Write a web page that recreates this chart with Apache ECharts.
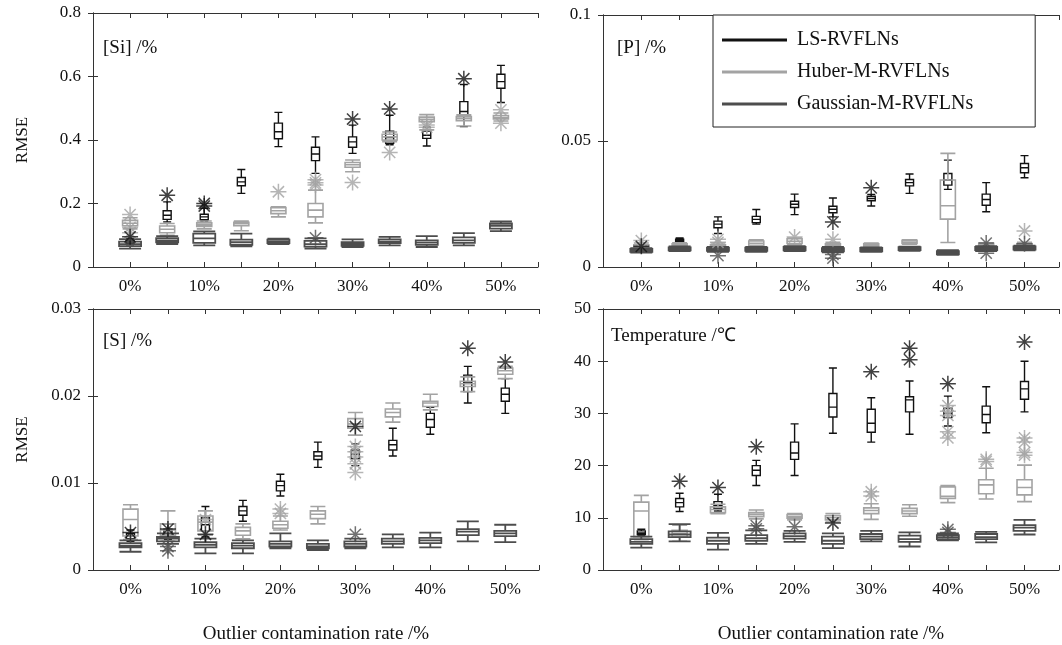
<!DOCTYPE html>
<html>
<head>
<meta charset="utf-8">
<script src="https://cdn.jsdelivr.net/npm/echarts@6/dist/echarts.min.js"></script>
<style>html,body{margin:0;padding:0;background:#fff}#c{width:1062px;height:645px}</style>
</head>
<body>
<div id="c"></div>
<script>
// ---------------- DATA ----------------
const rates = ['0%','5%','10%','15%','20%','25%','30%','35%','40%','45%','50%'];
const shownRateLabels = ['0%','10%','20%','30%','40%','50%'];
const methods = ['LS-RVFLNs','Huber-M-RVFLNs','Gaussian-M-RVFLNs'];
const panelLabels = ['[Si] /%','[P] /%','[S] /%','Temperature /\u2103'];
const yMax = [0.8, 0.1, 0.03, 50];
const yInterval = [0.2, 0.05, 0.01, 10];
const xAxisName = 'Outlier contamination rate /%';
const yAxisName = 'RMSE';

// box = [min, Q1, median, Q3, max]; outliers = [rateIndex, value]
const siLS = [[0.07,0.075,0.08,0.085,0.09],[0.142,0.15,0.163,0.177,0.205],[0.145,0.149,0.158,0.166,0.185],[0.232,0.256,0.268,0.282,0.307],[0.379,0.404,0.426,0.453,0.487],[0.295,0.335,0.356,0.377,0.41],[0.358,0.377,0.394,0.41,0.447],[0.385,0.39,0.408,0.428,0.478],[0.381,0.405,0.415,0.428,0.44],[0.442,0.479,0.49,0.521,0.575],[0.518,0.563,0.584,0.607,0.635]];
const siLSOut = [[0,0.095],[1,0.226],[2,0.2],[2,0.192],[6,0.466],[7,0.498],[9,0.593]];
const siHuber = [[0.12,0.13,0.138,0.147,0.155],[0.1,0.108,0.119,0.129,0.137],[0.12,0.128,0.133,0.139,0.145],[0.114,0.13,0.136,0.141,0.145],[0.158,0.168,0.177,0.187,0.19],[0.139,0.158,0.179,0.2,0.242],[0.3,0.314,0.322,0.329,0.337],[0.395,0.4,0.41,0.418,0.425],[0.432,0.458,0.465,0.472,0.48],[0.444,0.461,0.468,0.474,0.479],[0.46,0.466,0.471,0.477,0.485]];
const siHuberOut = [[0,0.165],[0,0.125],[0,0.108],[4,0.237],[5,0.275],[5,0.265],[5,0.258],[6,0.266],[7,0.361],[8,0.447],[8,0.44],[10,0.495],[10,0.453]];
const siGauss = [[0.058,0.066,0.072,0.08,0.088],[0.072,0.078,0.084,0.091,0.097],[0.068,0.076,0.09,0.105,0.112],[0.065,0.07,0.078,0.086,0.105],[0.072,0.075,0.08,0.086,0.089],[0.058,0.064,0.072,0.082,0.09],[0.063,0.067,0.072,0.078,0.087],[0.068,0.075,0.08,0.087,0.095],[0.063,0.07,0.077,0.084,0.097],[0.068,0.076,0.084,0.093,0.107],[0.113,0.121,0.13,0.137,0.144]];
const siGaussOut = [[5,0.092]];

const pLS = [[0.0062,0.0066,0.0069,0.0072,0.0078],[0.0095,0.0099,0.0105,0.011,0.0115],[0.0133,0.0156,0.017,0.0182,0.0199],[0.017,0.0176,0.0189,0.0201,0.0228],[0.0208,0.0236,0.0249,0.0261,0.0289],[0.0199,0.0215,0.0229,0.0241,0.0274],[0.0242,0.0263,0.0272,0.0281,0.0288],[0.0292,0.0322,0.0335,0.0347,0.0369],[0.0308,0.0325,0.0345,0.0371,0.0424],[0.0219,0.0245,0.0268,0.0289,0.0335],[0.0354,0.0374,0.0394,0.0411,0.0442]];
const pLSOut = [[0,0.0082],[5,0.0179],[6,0.0314]];
const pHuber = [[0.007,0.0075,0.008,0.0088,0.0095],[0.0078,0.0082,0.0087,0.0092,0.0096],[0.007,0.0077,0.0082,0.0088,0.0095],[0.008,0.0086,0.0094,0.0103,0.0108],[0.0088,0.0093,0.0102,0.0112,0.0115],[0.0075,0.008,0.0086,0.0092,0.0098],[0.0077,0.008,0.0086,0.0092,0.0095],[0.009,0.0093,0.0099,0.0106,0.0108],[0.0097,0.019,0.0243,0.0345,0.0451],[0.0075,0.008,0.0085,0.009,0.0095],[0.0075,0.008,0.0086,0.0093,0.0098]];
const pHuberOut = [[0,0.0105],[2,0.011],[2,0.0098],[4,0.0119],[5,0.011],[10,0.0143]];
const pGauss = [[0.0057,0.006,0.0066,0.0072,0.0075],[0.0063,0.0066,0.0072,0.0078,0.0082],[0.006,0.0064,0.007,0.0077,0.008],[0.006,0.0064,0.007,0.0077,0.008],[0.0063,0.0066,0.0073,0.008,0.0083],[0.0058,0.0062,0.0068,0.0075,0.008],[0.006,0.0062,0.0069,0.0076,0.0078],[0.0064,0.0067,0.0072,0.0079,0.0081],[0.0048,0.005,0.0056,0.0063,0.0067],[0.0063,0.0067,0.0073,0.008,0.0083],[0.0066,0.0069,0.0075,0.0082,0.0085]];
const pGaussOut = [[2,0.0045],[5,0.005],[5,0.0035],[9,0.0095],[9,0.0055],[10,0.0092]];

const sLS = [[0.0033,0.0036,0.0039,0.0042,0.0046],[0.0035,0.0038,0.0042,0.0047,0.0053],[0.0038,0.0045,0.0052,0.006,0.0073],[0.0056,0.0063,0.0068,0.0073,0.008],[0.0085,0.0091,0.0097,0.0102,0.011],[0.0118,0.0127,0.0131,0.0136,0.0147],[0.012,0.0128,0.0133,0.0138,0.0145],[0.0131,0.0138,0.0144,0.0149,0.0163],[0.0156,0.0164,0.0173,0.018,0.0187],[0.0192,0.0205,0.0215,0.0224,0.0234],[0.018,0.0194,0.0202,0.0209,0.022]];
const sLSOut = [[0,0.0043],[1,0.0047],[2,0.0041],[6,0.0165],[9,0.0255],[10,0.0239]];
const sHuber = [[0.0035,0.0039,0.0058,0.007,0.0075],[0.0033,0.004,0.0046,0.0053,0.0068],[0.004,0.0045,0.0055,0.0062,0.0068],[0.0036,0.004,0.0045,0.0049,0.0053],[0.0046,0.0048,0.0052,0.0056,0.0062],[0.0053,0.0059,0.0064,0.0068,0.0073],[0.0155,0.0163,0.0168,0.0174,0.0181],[0.017,0.0176,0.0181,0.0185,0.0192],[0.0184,0.0188,0.0192,0.0194,0.0202],[0.0205,0.0211,0.0214,0.0217,0.0222],[0.022,0.0225,0.0229,0.0232,0.0234]];
const sHuberOut = [[2,0.0058],[4,0.007],[4,0.0065],[6,0.0142],[6,0.0136],[6,0.013],[6,0.0122],[6,0.0112]];
const sGauss = [[0.0021,0.0026,0.0028,0.0031,0.0034],[0.003,0.0033,0.0036,0.0038,0.0042],[0.0019,0.0026,0.0029,0.0032,0.0036],[0.0019,0.0025,0.0028,0.0031,0.0034],[0.0025,0.0027,0.003,0.0033,0.0042],[0.0023,0.0025,0.0027,0.003,0.0034],[0.0025,0.0027,0.003,0.0033,0.0036],[0.0026,0.003,0.0033,0.0036,0.0041],[0.0026,0.0031,0.0034,0.0037,0.0043],[0.0033,0.004,0.0044,0.0047,0.0056],[0.0032,0.0039,0.0042,0.0045,0.0052]];
const sGaussOut = [[1,0.0022],[1,0.0027],[6,0.0041]];

const tLS = [[6.5,6.8,7.1,7.5,7.8],[11.2,12.1,12.9,13.7,14.7],[11.3,11.8,12.4,13.1,14.5],[16.2,18.1,19.1,20.0,21.0],[18.1,21.2,22.4,24.5,28.0],[26.2,29.3,31.2,33.8,38.7],[24.5,26.4,28.1,30.8,33.0],[26.0,30.3,32.6,33.2,36.2],[27.6,29.2,30.0,31.0,33.3],[26.3,28.2,29.8,31.4,35.1],[30.3,32.7,34.7,36.1,40.0]];
const tLSOut = [[1,17.0],[2,15.8],[3,23.6],[5,9.0],[6,38.0],[7,42.5],[7,40.3],[8,35.7],[10,43.7]];
const tHuber = [[5.8,6.4,11.3,13.0,14.3],[5.5,6.3,7.0,7.6,8.6],[10.8,11.0,11.6,12.1,12.6],[9.8,10.2,10.6,11.0,11.5],[9.6,9.9,10.2,10.6,10.8],[9.2,9.6,10.0,10.4,10.8],[9.7,10.8,11.4,11.9,12.7],[10.3,10.8,11.3,11.8,12.5],[12.9,13.7,14.1,15.9,16.2],[13.6,14.6,16.3,17.3,19.5],[13.1,14.4,15.8,17.3,20.1]];
const tHuberOut = [[6,15.0],[6,14.2],[8,31.5],[8,30.4],[8,29.6],[8,26.5],[8,25.3],[9,21.2],[9,20.8],[10,25.3],[10,24.5],[10,22.5],[10,22.0]];
const tGauss = [[4.3,5.0,5.4,5.9,6.4],[5.5,6.3,6.8,7.4,8.8],[3.9,5.0,5.6,6.2,7.1],[5.0,5.6,6.1,6.7,7.6],[5.4,6.0,6.5,7.0,7.5],[4.2,5.0,5.6,6.4,7.0],[5.5,5.9,6.4,6.9,7.5],[4.5,5.4,5.9,6.6,7.2],[5.7,5.9,6.3,6.7,7.0],[5.3,5.9,6.3,6.9,7.3],[6.8,7.5,8.1,8.6,9.6]];
const tGaussOut = [[3,8.5],[3,7.9],[4,8.3],[8,7.8],[8,7.2]];

// ---------------- LAYOUT / STYLE ----------------
const panelBoxes = [[siLS, siHuber, siGauss],[pLS, pHuber, pGauss],[sLS, sHuber, sGauss],[tLS, tHuber, tGauss]];
const panelOuts = [[siLSOut, siHuberOut, siGaussOut],[pLSOut, pHuberOut, pGaussOut],[sLSOut, sHuberOut, sGaussOut],[tLSOut, tHuberOut, tGaussOut]];
const FONT = 'Liberation Serif';
const colors = ['#111111', '#a3a3a3', '#4d4d4d'];
const boxW = [8, 15, 22];
const lineW = [1.4, 1.6, 1.8];
const grids = [
  {left: 93, top: 13, width: 445, height: 254},
  {left: 603, top: 15, width: 456, height: 252},
  {left: 93, top: 309, width: 446, height: 262},
  {left: 603, top: 309, width: 456, height: 262}
];
const xMaxes = [12, 11.9, 11.9, 11.9];
const labelPos = [[103, 39], [617, 39], [103, 332], [611, 327]];
const STAR = 'path://M10 0L10 20M0 10L20 10M3 3L17 17M3 17L17 3';
const axisCol = '#333';

const xAxes = [], yAxes = [], series = [], titles = [];
grids.forEach((g, gi) => {
  const bottomRow = gi >= 2;
  for (let k = 0; k < 3; k++) {
    const ax = {
      type: 'value', gridIndex: gi, min: 0, max: xMaxes[gi], interval: 1,
      splitLine: {show: false},
      axisLine: {show: true, onZero: false, lineStyle: {color: axisCol, width: 1}},
      axisTick: {show: true, inside: true, length: 5, lineStyle: {color: axisCol}},
      axisLabel: {show: false}
    };
    if (k === 0) {
      ax.position = 'bottom';
      ax.axisLabel = {
        show: true, margin: 11, fontFamily: FONT, fontSize: 17, color: '#111',
        showMinLabel: true, showMaxLabel: true,
        formatter: v => {
          const r = Math.round(v);
          if (Math.abs(v - r) > 1e-6) return '';
          const lab = rates[r - 1];
          return lab && shownRateLabels.includes(lab) ? lab : '';
        }
      };
      if (bottomRow) {
        ax.name = xAxisName; ax.nameLocation = 'middle'; ax.nameGap = 55;
        ax.nameTextStyle = {fontFamily: FONT, fontSize: 19, color: '#111'};
      }
    } else if (k === 1) {
      ax.position = 'top';
    } else {
      ax.show = false;
    }
    xAxes.push(ax);
  }
  const yl = {
    type: 'value', gridIndex: gi, min: 0, max: yMax[gi], interval: yInterval[gi], position: 'left',
    splitLine: {show: false},
    axisLine: {show: true, lineStyle: {color: axisCol, width: 1}},
    axisTick: {show: true, inside: true, length: 5, lineStyle: {color: axisCol}},
    axisLabel: {show: true, margin: 12, fontFamily: FONT, fontSize: 17, color: '#111'}
  };
  if (gi % 2 === 0) {
    yl.name = yAxisName; yl.nameLocation = 'middle'; yl.nameRotate = 90; yl.nameGap = 62;
    yl.nameTextStyle = {fontFamily: FONT, fontSize: 17, color: '#111'};
  }
  yAxes.push(yl);
  yAxes.push({
    type: 'value', gridIndex: gi, min: 0, max: yMax[gi], interval: yInterval[gi], position: 'right',
    splitLine: {show: false},
    axisLine: {show: true, lineStyle: {color: axisCol, width: 1}},
    axisTick: {show: true, inside: true, length: 5, lineStyle: {color: axisCol}},
    axisLabel: {show: false}
  });
  titles.push({
    text: panelLabels[gi], left: labelPos[gi][0], top: labelPos[gi][1], padding: 0,
    textStyle: {fontFamily: FONT, fontSize: 19, fontWeight: 'normal', color: '#111'}
  });
  // draw order: Huber, Gaussian, LS
  [1, 2, 0].forEach(k => {
    series.push({
      type: 'boxplot', name: methods[k], xAxisIndex: gi * 3 + k, yAxisIndex: gi * 2,
      boxWidth: [boxW[k], boxW[k]], z: 2 + k,
      itemStyle: {color: 'rgba(0,0,0,0)', borderColor: colors[k], borderWidth: lineW[k]},
      emphasis: {disabled: true},
      data: panelBoxes[gi][k].map((b, i) => [i + 1].concat(b))
    });
  });
  [1, 2, 0].forEach(k => {
    series.push({
      type: 'scatter', name: methods[k], xAxisIndex: gi * 3, yAxisIndex: gi * 2,
      symbol: STAR, symbolSize: 16, z: 6,
      itemStyle: {color: 'rgba(0,0,0,0)', borderColor: colors[k], borderWidth: 1.5},
      emphasis: {disabled: true},
      data: panelOuts[gi][k].map(o => [o[0] + 1, o[1]])
    });
  });
});

const chart = echarts.init(document.getElementById('c'), null, {renderer: 'canvas'});
chart.setOption({
  animation: false,
  backgroundColor: '#fff',
  title: titles,
  grid: grids,
  xAxis: xAxes,
  yAxis: yAxes,
  legend: {
    left: 713, top: 15, orient: 'vertical', selectedMode: false,
    data: methods.map((m, i) => ({name: m, icon: 'rect', itemStyle: {color: colors[i], borderWidth: 0}})),
    itemWidth: 65, itemHeight: 3, itemGap: 12,
    padding: [15, 62, 13, 9],
    borderColor: '#222', borderWidth: 1, backgroundColor: '#fff',
    textStyle: {fontFamily: FONT, fontSize: 20, color: '#111', lineHeight: 20, padding: [0, 0, 0, 5]}
  },
  series: series
});
</script>
</body>
</html>
